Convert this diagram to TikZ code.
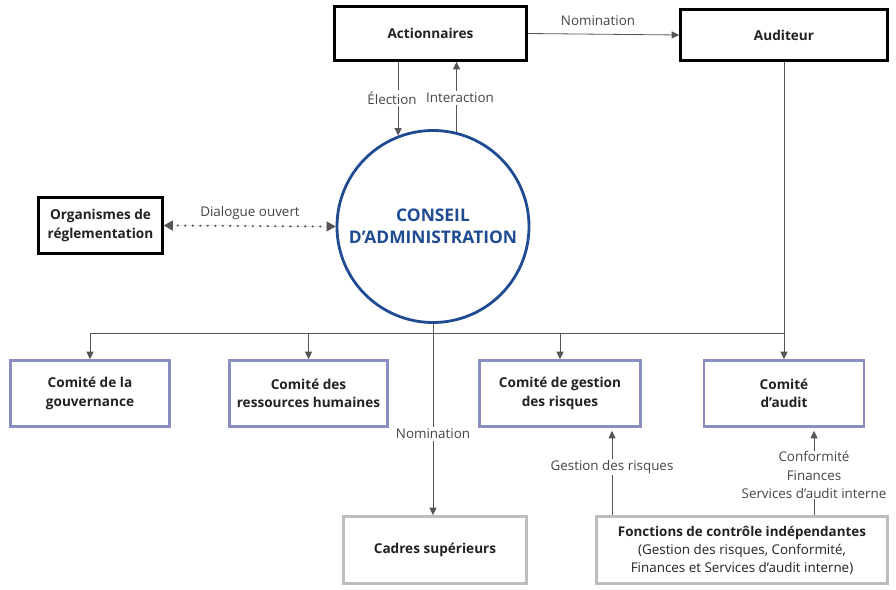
\documentclass[tikz,border=0pt]{standalone}
\usepackage{fontspec}
\setmainfont{Open Sans}
\usetikzlibrary{arrows.meta,calc}
\definecolor{bluec}{HTML}{1F4B93}
\definecolor{comc}{HTML}{8A8EC2}
\definecolor{grayc}{HTML}{BDBDBD}
\definecolor{linec}{HTML}{555555}
\definecolor{txtc}{HTML}{222222}
\definecolor{lblc}{HTML}{444444}
\begin{document}
\begin{tikzpicture}[x=1pt,y=-1pt,
  box/.style={draw, line width=2.6pt, fill=white, inner sep=1pt, align=center,
    text=txtc, font=\fontsize{13.6}{18.5}\selectfont\bfseries},
  blackbox/.style={box, draw=black},
  combox/.style={box, draw=comc},
  graybox/.style={box, draw=grayc},
  lbl/.style={text=lblc, font=\fontsize{13.4}{18}\selectfont, inner sep=1.5pt, align=center},
  wire/.style={draw=linec, line width=0.8pt},
  conn/.style={wire, -{Triangle[length=7.5pt,width=7pt]}},
]
\useasboundingbox (0,0) rectangle (896,589);

% boxes
\node[blackbox, minimum width=192pt, minimum height=54pt] (act) at (430.5,33.5) {Actionnaires};
\node[blackbox, minimum width=207pt, minimum height=51pt] (aud) at (784,35) {Auditeur};
\node[blackbox, minimum width=124pt, minimum height=56pt] (org) at (100.5,225.5) {Organismes de\\r\'eglementation};
\node[circle, draw=bluec, line width=2.8pt, minimum size=192pt, inner sep=0pt, align=center, text=bluec,
  font=\fontsize{17.4}{21.5}\selectfont\bfseries] (ca) at (433,226.5) {CONSEIL\\D’ADMINISTRATION};

\node[combox, minimum width=159pt, minimum height=66pt] (gov) at (90,393.5) {Comit\'e de la\\gouvernance};
\node[combox, minimum width=158pt, minimum height=66pt] (rh) at (308.5,393.5) {Comit\'e des\\ressources humaines};
\node[combox, minimum width=161pt, minimum height=66pt] (risk) at (560,393.5) {Comit\'e de gestion\\des risques};
\node[combox, minimum width=160pt, minimum height=66pt] (audc) at (784,393.5) {Comit\'e\\d’audit};

\node[graybox, minimum width=183pt, minimum height=67pt] (cad) at (435,550) {Cadres sup\'erieurs};
\node[graybox, minimum width=291pt, minimum height=67pt, font=\fontsize{13.4}{18}\selectfont] (fonc) at (742,550)
  {\textbf{Fonctions de contr\^ole ind\'ependantes}\\(Gestion des risques, Conformit\'e,\\Finances et Services d’audit interne)};

% labels
\node[lbl] (nomA) at (598,21) {Nomination};
\node[lbl] (elab) at (392,98) {\'Election};
\node[lbl] (ilab) at (460,98) {Interaction};
\node[lbl] (dlab) at (250,213) {Dialogue ouvert};
\node[lbl] (nomC) at (433,434) {Nomination};
\node[lbl] (glab) at (612,467) {Gestion des risques};
\node[lbl, font=\fontsize{13.4}{18.5}\selectfont, inner sep=0.5pt] (clab) at (814,475) {Conformit\'e\\Finances\\Services d’audit interne};

\coordinate (bus) at (0,333);
\coordinate (gx) at (612,0);
\coordinate (cx) at (814,0);

% top connectors
\draw[conn] (act.east) -- (aud.west);
\draw[wire] (act.south -| ca.111) -- (elab.north -| ca.111);
\draw[conn] (elab.south -| ca.111) -- (ca.111);
\draw[wire] (ca.76) -- (ilab.south -| ca.76);
\draw[conn] (ilab.north -| ca.76) -- (act.south -| ca.76);

% dialogue
\draw[draw=linec, line width=2.4pt, line cap=round, dash pattern=on 0pt off 7.5pt] ($(org.east)+(14,0)$) -- ($(ca.west)+(-14,0)$);
\draw[draw=linec, line width=0.01pt, {Triangle[length=9pt,width=10pt,fill=linec]}-{Triangle[length=9pt,width=10pt,fill=linec]}] (org.east) -- (ca.west);

% bus
\draw[wire] (gov.north |- bus) -- (aud.south |- bus);
\draw[conn] (gov.north |- bus) -- (gov.north);
\draw[conn] (rh.north |- bus) -- (rh.north);
\draw[conn] (risk.north |- bus) -- (risk.north);
\draw[conn] (aud.south) -- (audc.north);

% nomination cadres
\draw[wire] (ca.south) -- (nomC.north -| ca.south);
\draw[conn] (nomC.south -| ca.south) -- (ca.south |- cad.north);

% control functions
\draw[wire] (fonc.north -| gx) -- (glab.south -| gx);
\draw[conn] (glab.north -| gx) -- ($(gx |- risk.south)+(0,3)$);
\draw[wire] (fonc.north -| cx) -- (clab.south -| cx);
\draw[conn] (clab.north -| cx) -- ($(cx |- audc.south)+(0,3)$);
\end{tikzpicture}
\end{document}
